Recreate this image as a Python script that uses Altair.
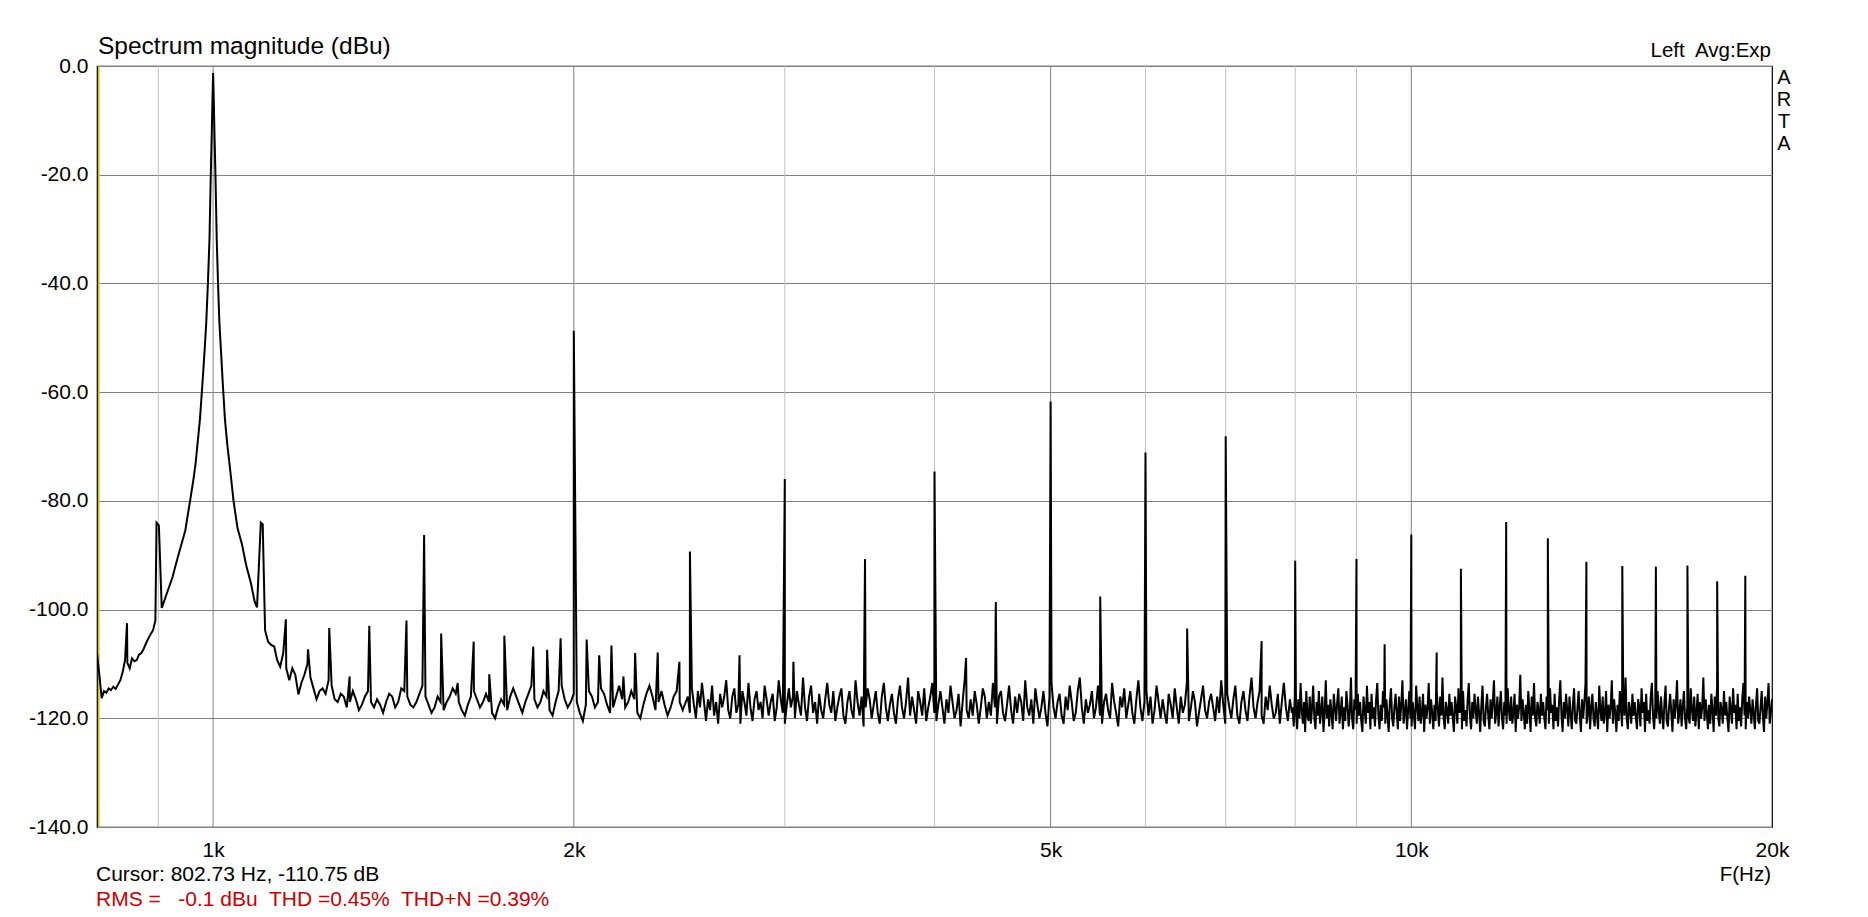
import altair as alt
import numpy as np
import pandas as pd

FONT = "Liberation Sans"

# axes
F_RANGE = [800, 20000]
DB_RANGE = [-140, 0]
X_LABELS = [1000, 2000, 5000, 10000, 20000]
X_MINOR = [900, 3000, 4000, 6000, 7000, 8000, 9000]
X_MAJOR = [1000, 2000, 5000, 10000]
Y_TICKS = [-140, -120, -100, -80, -60, -40, -20, 0]
CURSOR_HZ = 802.73

# noise floor, band by band (dB, left to right)
NOISE_LOW = [  # 800 .. 895 Hz
    -108, -112, -116.3, -115, -115.3, -114.5, -114.8, -114.2, -114.6, -113.8,
    -113, -111.5, -109.3, -109.8, -110.8, -109, -109.5, -109.3, -108.3, -108,
    -107.2, -106.2, -105.3, -104.5, -103.8, -102,
]
NOISE_MID = [  # 1105 .. 2480 Hz
    -103.8, -105.9, -106.5, -106.8, -109.3, -110.5, -108, -110.8, -113, -110.8,
    -112, -115.6, -113.5, -112, -110, -112.5, -114.5, -116.5, -115, -114.5,
    -115.5, -113, -114, -116.5, -117, -115.5, -116, -118, -117, -115,
    -116.5, -118.5, -117.5, -116, -115, -117, -118, -116.5, -117.5, -119,
    -117, -115.5, -116, -118, -117, -114.5, -115, -116, -117.5, -118,
    -117, -115.5, -114, -116, -117.5, -119, -118, -116, -117, -118.5,
    -117, -116, -114.5, -115.5, -117, -118.5, -119.5, -117.5, -116, -115,
    -116.5, -118, -117, -115.5, -117, -119, -120, -118, -116.5, -117.5,
    -118.5, -116, -114.5, -116, -117.5, -119, -117, -115.5, -114, -116.5,
    -118, -117, -115, -116, -118.5, -119.5, -117, -115, -114, -116.5,
    -118, -117, -115.5, -117, -119, -120.5, -117.5, -115, -116, -118,
    -117, -114.5, -115.5, -117.5, -119, -118, -116, -114, -116.5, -118,
    -117, -115, -116.5, -119, -120, -117.5, -115.5, -114, -116, -118.5,
    -117, -115, -117.5, -119.5, -118, -116, -115, -117, -118.5, -117,
]
NOISE_HIGH = [  # 2490 .. 7950 Hz
    -116, -119, -114.5, -117.5, -120, -115, -118, -113.5, -117, -120.5,
    -116.5, -118.5, -114, -119.5, -117, -121, -115.5, -118, -116, -113,
    -118.5, -120, -116, -114.5, -119, -117.5, -121, -115, -117, -119.5,
    -113.5, -118, -120.5, -116.5, -115, -118.5, -117, -120, -114, -116.5,
    -119.5, -117, -115.5, -120.5, -118, -113, -116.5, -119, -121, -117.5,
    -114.5, -118, -116, -120, -115, -117.5, -119.5, -112.5, -118, -120.5,
    -116, -114, -119, -117, -121, -115.5, -118.5, -120, -116.5, -113.5,
    -117.5, -119, -115, -120.5, -118, -116, -114.5, -119.5, -121, -117,
    -115, -118.5, -120, -113, -117, -119.5, -116, -121.5, -118, -114.5,
    -116.5, -120, -117.5, -115, -119, -121, -116, -113.5, -118, -120.5,
    -117.5, -115.5, -119, -121, -116.5, -114, -118, -120, -117, -112.5,
    -119.5, -116, -118.5, -121, -115, -117, -119.5, -114.5, -120.5, -118,
    -116, -113.5, -119, -120.5, -117.5, -115, -118, -121, -116.5, -119,
    -114, -117, -120, -118.5, -115.5, -121.5, -117, -113, -118.5, -120,
    -116.5, -119.5, -115, -117.5, -121, -118, -114.5, -116, -120, -117,
    -119.5, -113.5, -118, -121, -116, -115, -119, -120.5, -117.5, -114,
    -118.5, -121, -116, -119, -115.5, -117, -120.5, -113, -118, -119.5,
    -116.5, -121, -114.5, -117.5, -120, -118, -115, -119, -121.5, -116,
    -113.5, -118, -120, -117, -115.5, -119.5, -121, -116, -118.5, -114,
    -117, -120.5, -119, -115, -112.5, -118, -121, -116.5, -119, -117.5,
    -115, -120, -118, -114, -119.5, -121, -117, -115.5, -118.5, -120,
    -113.5, -117, -119, -121.5, -116, -118, -114.5, -120, -117.5, -115,
    -119, -121, -116.5, -113, -118, -120.5, -117, -115, -119.5, -116,
    -121, -118.5, -114, -117, -120, -116.5, -119, -121, -115.5, -117.5,
    -120, -114.5, -118, -121, -116, -119, -117.5, -113.5, -120.5, -118,
    -115, -117, -121.5, -119, -116.5, -114, -118.5, -120, -117, -115.5,
    -118, -120.5, -116, -119, -113, -117.5, -121, -115.5, -118, -120,
    -116.5, -114, -119.5, -121, -117, -115, -118.5, -120.5, -116, -112.5,
    -118, -120, -117, -115, -119.5, -121, -116, -118.5, -114, -117.5,
    -120, -119, -115.5, -121, -117, -113.5, -118, -120.5, -116.5, -119,
]
NOISE_TOP = [  # 7960 .. 20000 Hz
    -118, -121.5, -115.5, -119, -122, -116.5, -120, -113.5, -118.5, -121,
    -117, -122.5, -115, -119.5, -120.5, -116, -121, -118, -114, -120,
    -122, -117, -119.5, -115, -121, -118.5, -116, -122.5, -119, -113,
    -120, -117.5, -121.5, -116.5, -119, -122, -115.5, -118, -120.5, -117,
    -114.5, -121, -119, -116, -122, -118, -120.5, -115, -117.5, -121.5,
    -119, -112.5, -120, -122, -116.5, -118.5, -121, -115.5, -119.5, -117,
    -120.5, -122.5, -116, -118.5, -121, -114, -119, -117, -122, -115.5,
    -120, -118, -121.5, -116.5, -113.5, -119.5, -122, -117.5, -120.5, -115,
    -118, -121, -116.5, -119.5, -122.5, -117, -114.5, -120, -121.5, -118,
    -115.5, -119, -122, -116, -120.5, -117.5, -113, -121, -119, -116.5,
    -122, -118.5, -115, -120, -121.5, -117, -119.5, -122, -114, -118,
    -120.5, -116, -121, -119, -115.5, -122.5, -117.5, -120, -118, -113.5,
    -121, -116.5, -119, -122, -117.5, -120.5, -115, -118.5, -121.5, -116,
    -119.5, -112.5, -120, -122, -117, -118.5, -121, -115.5, -119.5, -117,
    -120, -122.5, -116, -118, -121, -114.5, -119, -117.5, -122, -115,
    -120.5, -118.5, -121.5, -116.5, -113.5, -119.5, -122, -117, -120, -115.5,
    -118.5, -121, -116, -119, -122.5, -117.5, -114, -120.5, -121.5, -118,
    -115.5, -119.5, -122, -116.5, -120, -117, -113, -121, -119, -116,
    -121.5, -118, -115, -120, -122, -117, -119.5, -121, -114.5, -118.5,
    -120.5, -116, -121, -119, -115.5, -122.5, -117.5, -120, -118, -112,
    -120.5, -116.5, -119, -122, -117.5, -121, -115, -118.5, -122.5, -116,
    -119.5, -113.5, -120, -121.5, -117, -118.5, -121, -115.5, -119.5, -117,
    -120, -122, -116, -118.5, -121, -114.5, -119, -117.5, -122, -115.5,
    -120.5, -118, -121.5, -116.5, -113, -119.5, -122.5, -117, -120, -115.5,
    -118.5, -121.5, -116, -119, -122, -117.5, -114.5, -120.5, -121, -118,
    -115, -119.5, -122.5, -116.5, -120, -117, -113.5, -121, -119, -116,
    -122, -118, -115.5, -120, -121.5, -117, -119.5, -122, -114, -118.5,
    -120.5, -116, -121, -119, -115, -122.5, -117.5, -120, -118, -113,
    -121, -116.5, -119, -122.5, -117.5, -120.5, -115, -118.5, -121.5, -116,
    -119.5, -112.5, -120, -122, -117, -118.5, -121, -115.5, -119.5, -117,
    -120, -122, -116.5, -118, -121.5, -114.5, -119, -117, -122.5, -115.5,
    -120.5, -118.5, -121, -116, -113.5, -119.5, -122, -117.5, -120, -115,
    -118.5, -121, -116, -119.5, -122, -117, -114, -120.5, -121.5, -118,
    -115.5, -119, -122.5, -116.5, -120, -117.5, -113, -121, -119, -116.5,
    -121.5, -118, -115, -120, -122, -117.5, -119.5, -121, -114.5, -118.5,
    -120.5, -116, -121.5, -119, -115.5, -122, -117, -120, -118, -112.5,
    -120.5, -116.5, -119, -122, -117.5, -121, -115.5, -118.5, -122.5, -116,
    -119.5, -114, -120, -121.5, -117, -118.5, -121, -115, -119.5, -117,
    -120, -122.5, -116, -118.5, -121, -114.5, -119, -117.5, -122, -115.5,
    -120.5, -118, -121.5, -116.5, -113.5, -119.5, -122, -117, -120, -116,
    -118.5, -121, -116.5, -119, -122, -117.5, -114.5, -120.5, -121, -118,
    -115, -119.5, -122.5, -116, -120, -117, -113.5, -121, -119, -116.5,
]

# fundamental with its 900 / 1100 Hz sidebands
SKIRT_HZ = [
    897, 901, 906, 915, 925, 933, 941, 948, 957, 963,
    967, 970, 975, 980, 984, 987, 990, 993, 995.5, 997.5,
    998.8, 1000, 1001.2, 1002.5, 1004.5, 1007, 1009.5, 1012, 1015, 1018.5,
    1023, 1028, 1033, 1040, 1048, 1057, 1066, 1075, 1083, 1088,
    1096, 1100,
]
SKIRT_DB = [
    -84, -84.5, -99.7, -97, -94, -90.9, -88, -85.4, -79.8, -76,
    -73, -70, -65, -58, -52, -47, -40, -32, -20, -12,
    -6, -1.3, -6, -12, -20, -32, -40, -47, -52, -58,
    -65, -70, -74, -80, -85, -88, -92, -95, -98.5, -99.6,
    -84, -84.3,
]

# harmonics and hum spurs
SPUR_HZ = [
    847.5, 1150, 1200, 1250, 1300, 1350, 1450, 1500, 1550, 1600,
    1650, 1700, 1750, 1850, 1900, 1950, 2000, 2050, 2100, 2150,
    2200, 2250, 2350, 2450, 2500, 2750, 3000, 3050, 3500, 4000,
    4250, 4500, 5000, 5500, 6000, 6500, 7000, 7500, 8000, 9000,
    9500, 10000, 10500, 11000, 12000, 13000, 14000, 15000, 16000, 17000,
    18000, 19000,
]
SPUR_DB = [
    -102.5, -101.8, -107.3, -103.4, -112.3, -103.0, -102.0, -86.3, -104.4, -113.5,
    -105.9, -111.9, -104.8, -106.8, -107.4, -105.3, -48.7, -105.5, -108.4, -106.6,
    -112.3, -108.0, -107.9, -109.6, -89.3, -108.4, -76.0, -109.6, -90.7, -74.6,
    -108.9, -98.6, -61.7, -97.6, -71.1, -103.5, -68.1, -105.8, -91.0, -90.7,
    -106.4, -86.2, -107.9, -92.5, -83.9, -86.9, -91.2, -92.0, -92.1, -91.9,
    -94.8, -93.8,
]


def band(f0, f1, values):
    # spread a band's readings over its frequency span (log axis)
    return list(zip(np.geomspace(f0, f1, len(values)), values))


rows = (
    band(800, 895, NOISE_LOW)
    + list(zip(SKIRT_HZ, SKIRT_DB))
    + band(1105, 2480, NOISE_MID)
    + band(2490, 7950, NOISE_HIGH)
    + band(7960, 20000, NOISE_TOP)
    + list(zip(SPUR_HZ, SPUR_DB))
)
spec = pd.DataFrame(rows, columns=["freq", "db"]).sort_values("freq")

W, H = 1675, 761

X = alt.X(
    "freq:Q",
    scale=alt.Scale(type="log", domain=F_RANGE, nice=False),
    axis=alt.Axis(
        values=X_LABELS, labelExpr="datum.value / 1000 + 'k'", title=None,
        ticks=False, domain=False, grid=False, labelFlush=False,
        labelOverlap=False, labelPadding=12,
    ),
)
Y = alt.Y(
    "db:Q",
    scale=alt.Scale(domain=DB_RANGE, nice=False, zero=False),
    axis=alt.Axis(
        values=Y_TICKS, labelExpr="datum.value + '.0'", title=None,
        ticks=False, domain=False, grid=True, gridColor="#808080",
        gridOpacity=1, gridWidth=1, labelFlush=False, labelOverlap=False,
        labelPadding=9,
    ),
)

minor = alt.Chart(pd.DataFrame({"freq": X_MINOR})).mark_rule(color="#c0c0c0", strokeWidth=1).encode(x=X)
major = alt.Chart(pd.DataFrame({"freq": X_MAJOR})).mark_rule(color="#808080", strokeWidth=1).encode(x=X)
cursor = alt.Chart(pd.DataFrame({"freq": [CURSOR_HZ]})).mark_rule(color="#d0c000", strokeWidth=1.5).encode(x=X)

line = alt.Chart(spec).mark_line(color="black", strokeWidth=2, clip=True).encode(x=X, y=Y)


def note(text, x, y, size=21, color="black", align="left", **kw):
    return (
        alt.Chart(pd.DataFrame({"t": [text]}))
        .mark_text(font=FONT, fontSize=size, color=color, align=align, baseline="middle", **kw)
        .encode(x=alt.value(x), y=alt.value(y), text="t:N")
    )


texts = [
    note("Spectrum magnitude (dBu)", 1, -19, size=24.5),
    note("Left\u00a0 Avg:Exp", W - 1, -15, size=20.5, align="right"),
    note("A\nR\nT\nA", W + 12, 12, size=20, align="center", lineBreak="\n", lineHeight=22),
    note("F(Hz)", W - 1, 809, size=20.5, align="right"),
    note("Cursor: 802.73 Hz, -110.75 dB", -1, 809),
    note("RMS =\u00a0\u00a0 -0.1 dBu\u00a0 THD =0.45%\u00a0 THD+N =0.39%", -1, 834, color="#cc0000"),
]

chart = (
    alt.layer(minor, major, cursor, line, *texts)
    .properties(
        width=W, height=H, autosize="none",
        padding={"left": 89, "top": 58, "right": 86, "bottom": 82},
        background="white",
    )
    .configure_view(stroke="black", strokeWidth=1.2)
    .configure_axis(labelFont=FONT, labelFontSize=21, labelColor="black")
)

chart.save("out.html", embed_options={"renderer": "svg", "actions": False})
